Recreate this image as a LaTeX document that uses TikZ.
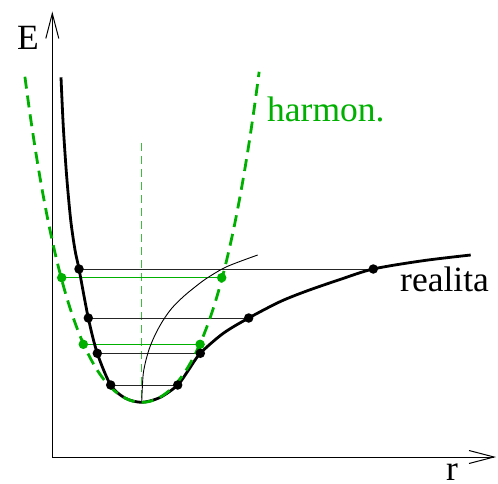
\documentclass[tikz,border=0pt]{standalone}
\usepackage{fontspec}
\setmainfont{Liberation Serif}
\usetikzlibrary{arrows.meta}
\definecolor{hgreen}{RGB}{0,176,0}
\definecolor{lgreen}{RGB}{60,190,60}
\tikzset{
  axis/.style={line width=1pt, -{Straight Barb[length=25pt,width=13pt,line width=1pt]}},
  bline/.style={line width=0.8pt, black!85},
  gline/.style={line width=0.9pt, hgreen},
  bcurve/.style={line width=2.8pt, black},
  gcurve/.style={line width=2.8pt, hgreen, dash pattern=on 12pt off 7pt},
  mcurve/.style={line width=0.9pt, black},
  vdash/.style={line width=1pt, lgreen, dash pattern=on 8pt off 5pt},
  bdot/.style={circle, fill=black, inner sep=0pt, minimum size=9.5pt},
  gdot/.style={circle, fill=hgreen, inner sep=0pt, minimum size=9.5pt},
  lab/.style={anchor=base west, inner sep=0pt, font=\rmfamily\fontsize{35.5}{42}\selectfont},
}
\begin{document}
\begin{tikzpicture}[x=1pt,y=-1pt]
\useasboundingbox (0,0) rectangle (498,484);
% axes
\coordinate (O) at (52.3,457);
\coordinate (Etip) at (52.3,11.5);
\coordinate (Rtip) at (496,457);
\draw[axis] (O) -- (Etip);
\draw[axis] (O) -- (Rtip);
\node[lab] (E) at (17,50) {E};
\node[lab] (r) at (446,480) {r};
% level coordinates
\coordinate (bL1) at (110.7,385);   \coordinate (bR1) at (177.7,385);
\coordinate (bL2) at (97.3,353.3);  \coordinate (bR2) at (200.3,353.3);
\coordinate (bL3) at (88.3,318);    \coordinate (bR3) at (248.7,318);
\coordinate (bL4) at (79,269);      \coordinate (bR4) at (373.3,269);
\coordinate (gL1) at (83.3,344.3);  \coordinate (gR1) at (200.1,344.3);
\coordinate (gL2) at (61.7,277.7);  \coordinate (gR2) at (221.7,277.7);
\coordinate (vtop) at (141.7,143);
\coordinate (vbot) at (141.7,400);
% vertical dashed line
\draw[vdash] (vtop) -- (vbot);
% level lines
\draw[gline] (gL1) -- (gR1);
\draw[gline] (gL2) -- (gR2);
\draw[bline] (bL1) -- (bR1);
\draw[bline] (bL2) -- (bR2);
\draw[bline] (bL3) -- (bR3);
\draw[bline] (bL4) -- (bR4);
% midpoint curve
\draw[mcurve] plot[smooth] coordinates {(141.7,402.3) (142.2,390) (143.3,373.3) (146,360) (150,346.7) (156,333) (163.3,320) (172,308) (183.3,296.7) (195,287) (206.7,278.3) (226.7,266.7) (257.7,255)};
% real potential
\draw[bcurve] plot[smooth] coordinates {(61,77.3) (63.3,126.7) (66.7,176.7) (70.7,220) (75,250) (79,269) (88.3,318) (97.3,353.3) (110.7,385) (125,398) (141.7,402.3) (160,397.5) (177.7,385) (188.5,370) (200.3,353.3) (223.3,333.3) (248.7,318) (280,301.7) (306.7,291) (340,279.5) (373.3,269) (423,260.7) (470.7,255)};
% harmonic potential
\draw[gcurve] plot[domain=-1.168:1.176, samples=120] ({141.7+100*\x}, {402.3-150*\x*\x-65*\x*\x*\x*\x});
% dots
\node[gdot] (dgL1) at (gL1) {};
\node[gdot] (dgR1) at (gR1) {};
\node[gdot] (dgL2) at (gL2) {};
\node[gdot] (dgR2) at (gR2) {};
\node[bdot] (dbL1) at (bL1) {};
\node[bdot] (dbR1) at (bR1) {};
\node[bdot] (dbL2) at (bL2) {};
\node[bdot] (dbR2) at (bR2) {};
\node[bdot] (dbL3) at (bL3) {};
\node[bdot] (dbR3) at (bR3) {};
\node[bdot] (dbL4) at (bL4) {};
\node[bdot] (dbR4) at (bR4) {};
% labels
\node[lab, text=hgreen] (harm) at (267,121.7) {harmon.};
\node[lab] (real) at (400,291.7) {realita};
\end{tikzpicture}
\end{document}
